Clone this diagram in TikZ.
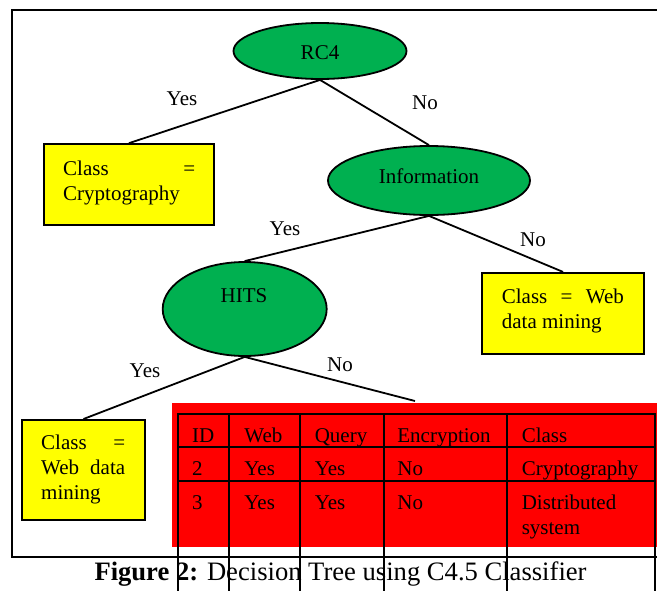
\documentclass[tikz,border=0pt]{standalone}
\usepackage{fontspec}
\setmainfont{Liberation Serif}
\usetikzlibrary{shapes.geometric}
\definecolor{nodegreen}{HTML}{00B050}
\definecolor{leafyellow}{HTML}{FFFF00}
\definecolor{tblred}{HTML}{FF0000}
\begin{document}
\begin{tikzpicture}[x=1pt,y=-1pt,
  txt/.style={inner sep=0pt, font=\fontsize{21}{25}\selectfont},
  cell/.style={txt, anchor=base west},
  lbl/.style={txt, anchor=base},
  dec/.style={ellipse, draw=black, fill=nodegreen, line width=1.8pt, inner sep=0pt},
  leaf/.style={rectangle, draw=black, fill=leafyellow, line width=2pt, inner sep=0pt},
  edge/.style={line width=1.8pt},
  grid/.style={line width=2.2pt}]
\useasboundingbox (0,0) rectangle (657,590);
% outer frame
\draw[line width=2pt] (675,10) -- (11.7,10) -- (11.7,556.5) -- (675,556.5);
% decision nodes
\node[dec, minimum width=173pt, minimum height=56pt] (rc4) at (320,51) {};
\node[dec, minimum width=202pt, minimum height=69pt] (info) at (429,180.5) {};
\node[dec, minimum width=164pt, minimum height=94pt] (hits) at (244.7,309) {};
\node[lbl] (rc4t) at (320,59.3) {RC4};
\node[lbl] (infot) at (429,183.3) {Information};
\node[lbl] (hitst) at (244,302.3) {HITS};
% leaves
\node[leaf, minimum width=170pt, minimum height=81pt] (c1) at (128.9,184.7) {};
\node[leaf, minimum width=162pt, minimum height=81pt] (c2) at (563,313.4) {};
\node[leaf, minimum width=123pt, minimum height=100pt] (c3) at (83.5,470) {};
\node[cell] (c1t) at (63,175) {\parbox[t]{132pt}{Class\hfill=\\Cryptography}};
\node[cell] (c2t) at (501.7,303.3) {\parbox[t]{122pt}{Class\hfill=\hfill Web\\data mining}};
\node[cell] (c3t) at (41,449.3) {\parbox[t]{84pt}{Class\hfill=\\Web\hfill data\\mining}};
% table
\fill[tblred] (172,403.3) rectangle (660,547);
\coordinate (tbl) at (415,401);
% connectors
\draw[edge] (rc4.south) -- (c1.north);
\draw[edge] (rc4.south) -- (info.north);
\draw[edge] (info.south) -- (hits.north);
\draw[edge] (info.south) -- (c2.north);
\draw[edge] (hits.south) -- (c3.north);
\draw[edge] (hits.south) -- (tbl);
% edge labels
\node[lbl] (y1) at (182,105) {Yes};
\node[lbl] (n1) at (425,109) {No};
\node[lbl] (y2) at (285,235) {Yes};
\node[lbl] (n2) at (533,246) {No};
\node[lbl] (y3) at (145,377.7) {Yes};
\node[lbl] (n3) at (340,371.7) {No};
% table text
\node[cell] (h1) at (191.9,442.7) {ID};
\node[cell] (h2) at (244.2,442.7) {Web};
\node[cell] (h3) at (314.6,442.7) {Query};
\node[cell] (h4) at (397.2,442.7) {Encryption};
\node[cell] (h5) at (521.6,442.7) {Class};
\node[cell] (r1a) at (191.9,475.7) {2};
\node[cell] (r1b) at (244.2,475.7) {Yes};
\node[cell] (r1c) at (314.6,475.7) {Yes};
\node[cell] (r1d) at (397.2,475.7) {No};
\node[cell] (r1e) at (521.6,475.7) {Cryptography};
\node[cell] (r2a) at (191.9,509.3) {3};
\node[cell] (r2b) at (244.2,509.3) {Yes};
\node[cell] (r2c) at (314.6,509.3) {Yes};
\node[cell] (r2d) at (397.2,509.3) {No};
\node[cell] (r2e) at (521.6,509.3) {\parbox[t]{130pt}{Distributed\\system}};
% caption
\node[anchor=base west, inner sep=0pt, font=\fontsize{26.6}{30}\selectfont] (cap) at (94.3,580) {\textbf{Figure 2:} Decision Tree using C4.5 Classifier};
% table grid
\foreach \yy in {414,446.7,480.7} \draw[grid] (177.6,\yy) -- (655,\yy);
\foreach \xx in {177.6,228.7,300,383.7,507,655} \draw[grid] (\xx,413) -- (\xx,592);
\end{tikzpicture}
\end{document}
